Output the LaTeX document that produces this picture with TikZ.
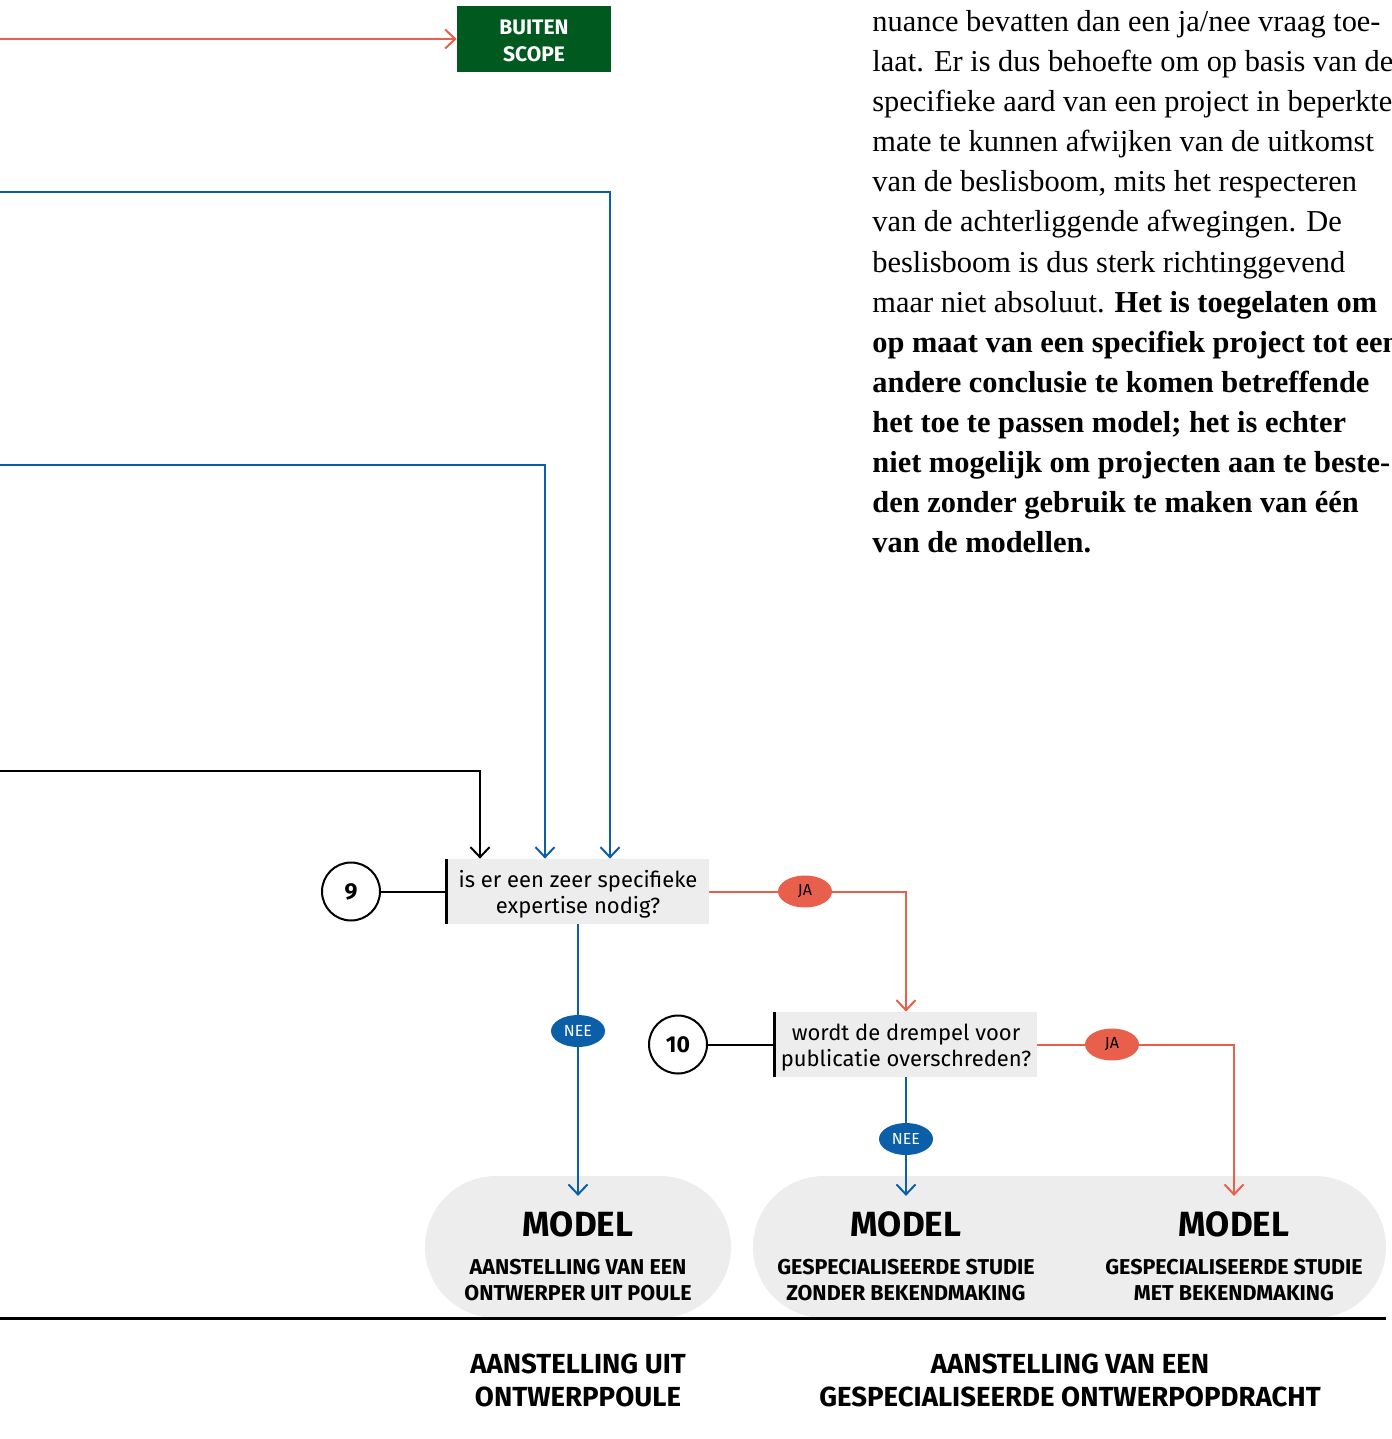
\documentclass[tikz,border=0pt]{standalone}
\usepackage{fontspec}
\setmainfont{Liberation Serif}
\newfontfamily\fira{Fira Sans}
\usetikzlibrary{arrows.meta,shapes.geometric,shapes.misc,calc}
\definecolor{flowred}{HTML}{E8604C}
\definecolor{flowblue}{HTML}{0B5EA8}
\definecolor{scopegreen}{HTML}{005A20}
\definecolor{boxgray}{HTML}{EDEDED}

\begin{document}
\begin{tikzpicture}[x=0.5pt,y=-0.5pt,
  tip/.style={-{Straight Barb[length=5pt,width=9.5pt,line width=1pt]}},
  redline/.style={flowred,line width=1pt,tip},
  blueline/.style={flowblue,line width=1pt,tip},
  blackline/.style={black,line width=1pt,tip},
  question/.style={rectangle,fill=boxgray,minimum width=131pt,minimum height=32.5pt,inner sep=0pt},
  qtext/.style={align=center,inner sep=0pt,font=\fira\fontsize{11}{13}\selectfont},
  num/.style={circle,draw,line width=1pt,minimum size=29pt,inner sep=0pt,
    font=\fira\bfseries\fontsize{11.5}{13}\selectfont},
  yes/.style={ellipse,fill=flowred,minimum width=27pt,minimum height=16pt,inner sep=0pt,
    font=\fira\fontsize{8}{9}\selectfont},
  no/.style={ellipse,fill=flowblue,text=white,minimum width=27pt,minimum height=16pt,inner sep=0pt,
    font=\fira\fontsize{8}{9}\selectfont},
  pill/.style={rounded rectangle,fill=boxgray,inner sep=0pt,minimum height=71pt},
  modeltitle/.style={inner sep=0pt,font=\fira\bfseries\fontsize{17.5}{19}\selectfont},
  modelsub/.style={inner sep=0pt,align=center,font=\fira\bfseries\fontsize{10.75}{13}\selectfont},
  grouplabel/.style={inner sep=0pt,align=center,font=\fira\bfseries\fontsize{13.8}{16.5}\selectfont},
  scopebox/.style={rectangle,fill=scopegreen,minimum width=77pt,minimum height=33pt,inner sep=0pt},
  scopetext/.style={align=center,inner sep=0pt,text=white,font=\fira\bfseries\fontsize{10.5}{13.5}\selectfont},
  para/.style={anchor=base west,inner sep=0pt,font=\fontsize{15.2}{20}\selectfont}]
\useasboundingbox (0,0) rectangle (1391,1439);
\clip (0,0) rectangle (1391,1439);

% model pills and the base line
\node[pill,minimum width=153pt] (p1) at (578,1247) {};
\node[pill,minimum width=316.5pt] (p2) at (1069.5,1247) {};
\coordinate (baseL) at (0,1318);
\coordinate (baseR) at (1386,1318);
\draw[line width=1.5pt] (baseL) -- (baseR);

% outcome boxes
\node[scopebox] (scope) at (534,39) {};
\node[scopetext] (scopelabel) at (534,41) {BUITEN\\SCOPE};
\node[modeltitle] (m1) at (578,1224) {MODEL};
\node[modeltitle] (m2) at (906,1224) {MODEL};
\node[modeltitle] (m3) at (1234,1224) {MODEL};
\node[modelsub] (s1) at (578,1280) {AANSTELLING VAN EEN\\ONTWERPER UIT POULE};
\node[modelsub] (s2) at (906,1280) {GESPECIALISEERDE STUDIE\\ZONDER BEKENDMAKING};
\node[modelsub] (s3) at (1234,1280) {GESPECIALISEERDE STUDIE\\MET BEKENDMAKING};

% questions
\node[question] (q9) at (578,891.5) {};
\node[qtext] (q9t) at (578,894.5) {is er een zeer specifieke\\expertise nodig?};
\node[question] (q10) at (906,1044.5) {};
\node[qtext] (q10t) at (906,1047.5) {wordt de drempel voor\\publicatie overschreden?};
\draw[line width=1.5pt] (q9.north west) -- (q9.south west);
\draw[line width=1.5pt] (q10.north west) -- (q10.south west);
\node[num] (c9) at (351,891.5) {9};
\node[num] (c10) at (678,1044.5) {10};
\draw[line width=1pt] (c9) -- (q9.west);
\draw[line width=1pt] (c10) -- (q10.west);

% incoming connectors
\coordinate (inRed) at (0,39);
\coordinate (inBlueA) at (0,192);
\coordinate (inBlueB) at (0,465);
\coordinate (inBlack) at (0,771);
\draw[redline] (inRed) -- (scope.west);
\draw[blueline] (inBlueA) -| ([xshift=16pt]q9.north);
\draw[blueline] (inBlueB) -| ([xshift=-16.5pt]q9.north);
\draw[blackline] (inBlack) -| ([xshift=-49pt]q9.north);

% answers
\draw[redline] (q9.east) -| (q10.north);
\draw[blueline] (q9.south) -- ([yshift=7.5pt]m1.north);
\draw[blueline] (q10.south) -- ([yshift=7.5pt]m2.north);
\draw[redline] (q10.east) -| ([yshift=7.5pt]m3.north);
\node[yes] (ja1) at (805,891.5) {JA};
\node[no] (nee1) at (578,1031) {NEE};
\node[yes] (ja2) at (1112,1044.5) {JA};
\node[no] (nee2) at (906,1139) {NEE};

% group labels
\node[grouplabel] (g1) at (578,1380) {AANSTELLING UIT\\ONTWERPPOULE};
\node[grouplabel] (g2) at (1070,1380) {AANSTELLING VAN EEN\\GESPECIALISEERDE ONTWERPOPDRACHT};

% explanatory text
\node[para] (t1) at (872,32) {nuance bevatten dan een ja/nee vraag toe-};
\node[para] (t2) at (872,72) {laat. Er is dus behoefte om op basis van de};
\node[para] (t3) at (872,112) {specifieke aard van een project in beperkte};
\node[para] (t4) at (872,152) {mate te kunnen afwijken van de uitkomst};
\node[para] (t5) at (872,192) {van de beslisboom, mits het respecteren};
\node[para] (t6) at (872,232) {van de achterliggende afwegingen. De};
\node[para] (t7) at (872,272) {beslisboom is dus sterk richtinggevend};
\node[para] (t8) at (872,312) {maar niet absoluut. \textbf{Het is toegelaten om}};
\node[para] (t9) at (872,352) {\textbf{op maat van een specifiek project tot een}};
\node[para] (t10) at (872,392) {\textbf{andere conclusie te komen betreffende}};
\node[para] (t11) at (872,432) {\textbf{het toe te passen model; het is echter}};
\node[para] (t12) at (872,472) {\textbf{niet mogelijk om projecten aan te beste-}};
\node[para] (t13) at (872,512) {\textbf{den zonder gebruik te maken van één}};
\node[para] (t14) at (872,552) {\textbf{van de modellen.}};
\end{tikzpicture}
\end{document}
